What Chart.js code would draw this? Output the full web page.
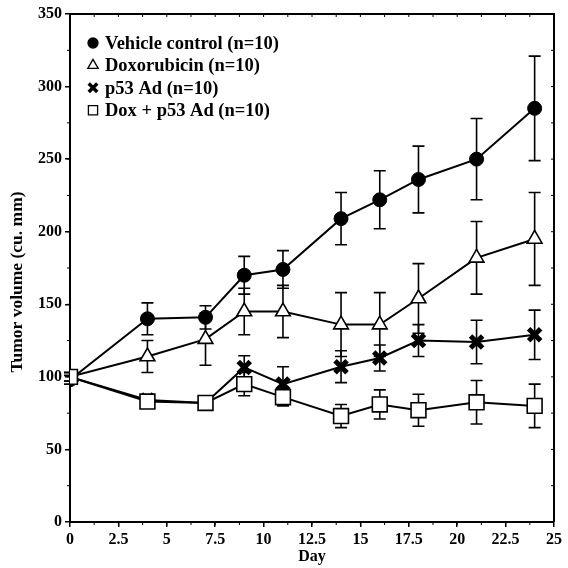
<!DOCTYPE html>
<html lang="en">
<head>
  <meta charset="UTF-8">
  <title>Tumor volume</title>
  <style>
    html, body { margin: 0; padding: 0; background: #fff; }
    #chart { display: block; }
  </style>
</head>
<body>
  <canvas id="chart" width="568" height="568"></canvas>

  <script src="https://cdn.jsdelivr.net/npm/chart.js@4"></script>
  <script>
    // values (mean, +/- error)
    const days = [0, 4, 7, 9, 11, 14, 16, 18, 21, 24];

    const vehicle = [98, 140, 141, 170, 174, 209, 222, 236, 250, 285];
    const vehicleErr = [3, 11, 8, 13, 13, 18, 20, 23, 28, 36];

    const doxo = [100, 114, 126, 145, 145, 136, 136, 154, 182, 195];
    const doxoErr = [3, 11, 18, 16, 18, 22, 22, 24, 25, 32];

    const p53 = [100, 84, 82, 106.5, 95, 107, 113, 125, 124, 129];
    const p53Err = [3, 3, 3, 8, 12, 11, 9, 11, 15, 17];

    const combo = [100, 83, 82, 95, 86, 73, 81, 77, 82.5, 80];
    const comboErr = [3, 3, 3, 8, 6, 8, 10, 11, 15, 15];

    const xTicks = [0, 2.5, 5, 7.5, 10, 12.5, 15, 17.5, 20, 22.5, 25];
    const yTicks = [0, 50, 100, 150, 200, 250, 300, 350];
    const yTitle = 'Tumor volume (cu. mm)';

    Chart.defaults.font.family = '"Liberation Serif", "Times New Roman", serif';
    Chart.defaults.font.size = 16;
    Chart.defaults.font.weight = 'bold';
    Chart.defaults.color = '#000';

    function toPoints(vals) {
      return days.map((d, i) => ({ x: d, y: vals[i] }));
    }

    // vertical error bars with caps, under the markers
    const errorBars = {
      id: 'errorBars',
      beforeDatasetsDraw(chart) {
        const ctx = chart.ctx;
        const ys = chart.scales.y;
        ctx.save();
        ctx.strokeStyle = '#000';
        ctx.lineWidth = 1.6;
        chart.data.datasets.forEach((ds, i) => {
          const meta = chart.getDatasetMeta(i);
          meta.data.forEach((pt, j) => {
            const v = ds.data[j].y, e = ds.errors[j];
            const top = ys.getPixelForValue(v + e);
            const bot = ys.getPixelForValue(v - e);
            ctx.beginPath();
            ctx.moveTo(pt.x, top); ctx.lineTo(pt.x, bot);
            ctx.moveTo(pt.x - 6, top); ctx.lineTo(pt.x + 6, top);
            ctx.moveTo(pt.x - 6, bot); ctx.lineTo(pt.x + 6, bot);
            ctx.stroke();
          });
        });
        ctx.restore();
      }
    };

    // top / right border with small ticks, plus the y title (sits a bit below centre)
    const frame = {
      id: 'frame',
      afterDraw(chart) {
        const { ctx, chartArea: a, scales } = chart;
        ctx.save();
        ctx.strokeStyle = '#000';
        ctx.lineWidth = 2;
        ctx.beginPath();
        ctx.moveTo(a.left, a.top); ctx.lineTo(a.right, a.top); ctx.lineTo(a.right, a.bottom);
        ctx.stroke();
        ctx.lineWidth = 1;
        ctx.beginPath();
        for (let v = 25; v < 350; v += 25) {
          const py = scales.y.getPixelForValue(v);
          ctx.moveTo(a.right, py); ctx.lineTo(a.right - 3, py);
          ctx.moveTo(a.left, py); ctx.lineTo(a.left - 3, py);
        }
        for (let d = 1.25; d < 25; d += 1.25) {
          const px = scales.x.getPixelForValue(d);
          ctx.moveTo(px, a.top); ctx.lineTo(px, a.top + 3);
          ctx.moveTo(px, a.bottom); ctx.lineTo(px, a.bottom + 3);
        }
        ctx.stroke();

        ctx.translate(17, (a.top + a.bottom) / 2 + 14);
        ctx.rotate(-Math.PI / 2);
        ctx.font = 'bold 17.5px "Liberation Serif", serif';
        ctx.fillStyle = '#000';
        ctx.textAlign = 'center';
        ctx.textBaseline = 'middle';
        ctx.fillText(yTitle, 0, 0);
        ctx.restore();
      }
    };

    // legend inside the plot, top-left
    const innerLegend = {
      id: 'innerLegend',
      afterDraw(chart) {
        const { ctx, chartArea: a } = chart;
        const sizes = [5, 6, 6, 6.5];
        ctx.save();
        ctx.font = 'bold 18.5px "Liberation Serif", serif';
        ctx.textBaseline = 'middle';
        chart.data.datasets.forEach((ds, i) => {
          const x = a.left + 23, y = a.top + 29 + i * 22.4;
          ctx.fillStyle = ds.pointBackgroundColor;
          ctx.strokeStyle = '#000';
          const bw = ds.pointStyle === 'crossRot' ? 3.5 : 1.3;
          ctx.lineWidth = bw;
          Chart.helpers.drawPoint(ctx, { pointStyle: ds.pointStyle, radius: sizes[i], borderWidth: bw, rotation: 0 }, x, y);
          ctx.fillStyle = '#000';
          ctx.fillText(ds.label, x + 12, y + 1);
        });
        ctx.restore();
      }
    };

    function series(label, vals, errs, style, fill, radius, bw, order) {
      return {
        label: label,
        data: toPoints(vals),
        errors: errs,
        borderColor: '#000',
        borderWidth: 2,
        pointStyle: style,
        pointRadius: radius,
        pointBackgroundColor: fill,
        pointBorderColor: '#000',
        pointBorderWidth: bw,
        tension: 0,
        order: order
      };
    }

    const chart = new Chart(document.getElementById('chart').getContext('2d'), {
      type: 'line',
      data: {
        datasets: [
          series('Vehicle control (n=10)', vehicle, vehicleErr, 'circle', '#000', 7, 1, 4),
          series('Doxorubicin (n=10)', doxo, doxoErr, 'triangle', '#fff', 8.5, 1.6, 3),
          series('p53 Ad (n=10)', p53, p53Err, 'crossRot', '#000', 8.5, 5, 2),
          series('Dox + p53 Ad (n=10)', combo, comboErr, 'rect', '#fff', 10.5, 1.6, 1)
        ]
      },
      options: {
        responsive: false,
        animation: false,
        layout: { padding: { top: 14, right: 14, left: 0, bottom: 0 } },
        plugins: {
          legend: { display: false },
          tooltip: { enabled: false }
        },
        scales: {
          x: {
            type: 'linear',
            min: 0,
            max: 25,
            afterBuildTicks: s => { s.ticks = xTicks.map(v => ({ value: v })); },
            afterFit: s => { s.height = 46; },
            ticks: { padding: 3, callback: v => String(v), maxRotation: 0, autoSkip: false },
            grid: { drawOnChartArea: false, tickLength: 5, color: '#000', lineWidth: 1.5 },
            border: { color: '#000', width: 2 },
            title: { display: true, text: 'Day', padding: { top: 0, bottom: 2 } }
          },
          y: {
            min: 0,
            max: 350,
            afterBuildTicks: s => { s.ticks = yTicks.map(v => ({ value: v })); },
            afterFit: s => { s.width = 70; },
            ticks: { padding: 3, callback: v => String(v) },
            grid: { drawOnChartArea: false, tickLength: 5, color: '#000', lineWidth: 1.5 },
            border: { color: '#000', width: 2 }
          }
        }
      },
      plugins: [errorBars, frame, innerLegend]
    });
  </script>
</body>
</html>
